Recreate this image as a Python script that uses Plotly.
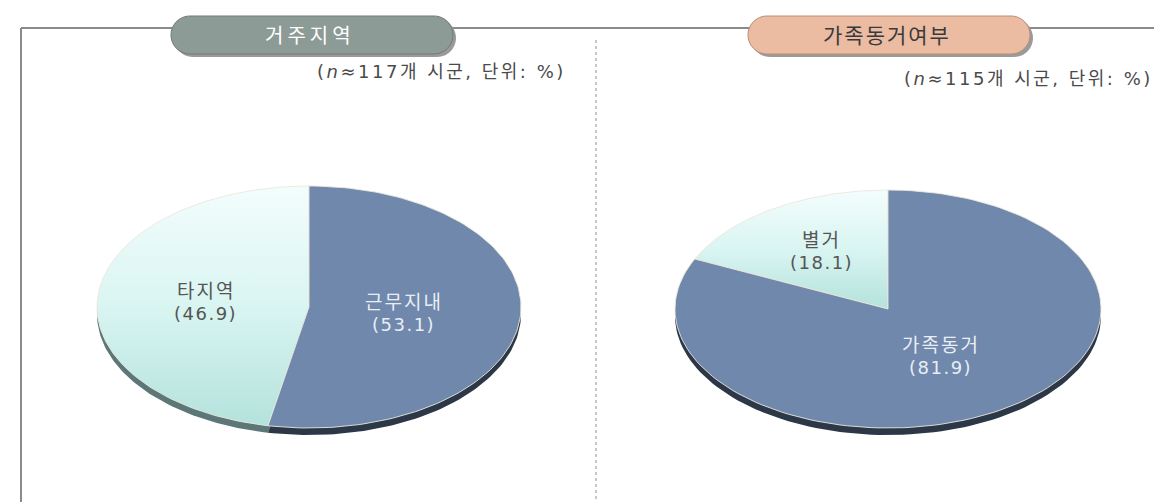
import numpy as np
import plotly.graph_objects as go

# ---- data ----
region_title = "거주지역"
region_note = "(<i>n</i>≈117개 시군, 단위: %)"
region_labels = ["타지역", "근무지내"]
region_values = [46.9, 53.1]

family_title = "가족동거여부"
family_note = "(<i>n</i>≈115개 시군, 단위: %)"
family_labels = ["별거", "가족동거"]
family_values = [18.1, 81.9]

W, H = 1162, 502
FONT = "DejaVu Sans, Noto Sans CJK KR"
KFONT = "Noto Sans CJK KR"

fig = go.Figure()


def spaced(txt, px):
    return f'<span style="letter-spacing:{px}px">{txt}</span>'


def wedge(cx, cy, a, b, t0, t1, n=140):
    t = np.linspace(t0, t1, n)
    xs = np.concatenate([[cx], cx - a * np.sin(t), [cx]])
    ys = np.concatenate([[cy], cy - b * np.cos(t), [cy]])
    return xs, ys


def add_pie(cx, cy, a, b, depth, labels, values, top_fill, rim_colors,
            text_colors, label_r):
    total = float(sum(values))
    start = 0.0
    spans = []
    for v in values:
        end = start + 2 * np.pi * v / total
        spans.append((start, end))
        start = end
    # side rim (3D thickness)
    for (t0, t1), rc in zip(spans, rim_colors):
        xs, ys = wedge(cx, cy + depth, a, b, t0, t1)
        fig.add_trace(go.Scatter(x=xs, y=ys, mode="lines", fill="toself",
                                 fillcolor=rc, line=dict(width=0),
                                 hoverinfo="skip", showlegend=False))
    # top surface
    for (t0, t1), tf in zip(spans, top_fill):
        xs, ys = wedge(cx, cy, a, b, t0, t1)
        kw = dict(x=xs, y=ys, mode="lines", fill="toself",
                  line=dict(width=1, color="rgba(235,232,220,0.9)"),
                  hoverinfo="skip", showlegend=False)
        if isinstance(tf, str):
            kw["fillcolor"] = tf
        else:
            kw["fillgradient"] = dict(type="vertical", colorscale=tf)
        fig.add_trace(go.Scatter(**kw))
    # labels (name line + value line)
    for (t0, t1), lab, v, tc, r in zip(spans, labels, values, text_colors, label_r):
        tm = (t0 + t1) / 2
        lx = cx - a * r * np.sin(tm)
        ly = cy - b * r * np.cos(tm)
        fig.add_annotation(x=lx, y=ly - 12, text=spaced(lab, 2), showarrow=False,
                           font=dict(family=KFONT, size=19, color=tc),
                           xanchor="center", yanchor="middle")
        fig.add_annotation(x=lx, y=ly + 12, text=spaced(f"({v:.1f})", 1.5),
                           showarrow=False,
                           font=dict(family=FONT, size=18, color=tc),
                           xanchor="center", yanchor="middle")


light_scale = [[0, "#b4e2dc"], [0.5, "#d9f5f2"], [1, "#f3fdfd"]]
dark_blue = "#7088ab"

add_pie(301, 299, 212, 121, 7, region_labels, region_values,
        [light_scale, dark_blue], ["#5b7777", "#2c3748"],
        ["#555555", "#e9eef6"], [0.49, 0.45])
add_pie(880, 301, 213, 119, 7, family_labels, family_values,
        [light_scale, dark_blue], ["#5b7777", "#2c3748"],
        ["#555555", "#e9eef6"], [0.58, 0.46])

# ---- frame & decorations ----
shapes = []
line_col = "#8a8a8a"
shapes.append(dict(type="line", x0=13, y0=20, x1=13, y1=502,
                   line=dict(color=line_col, width=2)))
shapes.append(dict(type="line", x0=13, y0=20, x1=1158, y1=20,
                   line=dict(color=line_col, width=2)))
shapes.append(dict(type="line", x0=588, y0=32, x1=588, y1=494,
                   line=dict(color="#b5b5b5", width=1.5, dash="dot")))
shapes.append(dict(type="rect", x0=14, y0=496, x1=1162, y1=502,
                   fillcolor="#e8f3e0", line=dict(width=0)))


def pill_path(x0, y0, x1, y1):
    r = (y1 - y0) / 2
    pts = []
    for t in np.linspace(-np.pi / 2, np.pi / 2, 24):
        pts.append((x1 - r + r * np.cos(t), (y0 + y1) / 2 + r * np.sin(t)))
    for t in np.linspace(np.pi / 2, 3 * np.pi / 2, 24):
        pts.append((x0 + r + r * np.cos(t), (y0 + y1) / 2 + r * np.sin(t)))
    return "M " + " L ".join(f"{px:.2f},{py:.2f}" for px, py in pts) + " Z"


for (x0, x1, fill, edge) in [(163, 445, "#8d9b96", "#6f7a76"),
                             (740, 1022, "#ebbba2", "#b98e78")]:
    shapes.append(dict(type="path", path=pill_path(x0 + 3, 11, x1 + 3, 49),
                       fillcolor="#9a9a9a", line=dict(width=0)))
    shapes.append(dict(type="path", path=pill_path(x0, 8, x1, 46),
                       fillcolor=fill, line=dict(color=edge, width=1)))

fig.add_annotation(x=302, y=26, text=spaced(region_title, 4), showarrow=False,
                   font=dict(family=KFONT, size=20, color="#ffffff"))
fig.add_annotation(x=879, y=26, text=spaced(family_title, 2), showarrow=False,
                   font=dict(family=KFONT, size=21, color="#3a3a3a"))
fig.add_annotation(x=560, y=63, text=spaced(region_note, 2.5), showarrow=False,
                   xanchor="right", font=dict(family=FONT, size=18, color="#4a4a4a"))
fig.add_annotation(x=1147, y=70, text=spaced(family_note, 2.5), showarrow=False,
                   xanchor="right", font=dict(family=FONT, size=18, color="#4a4a4a"))

fig.update_layout(
    width=W, height=H, margin=dict(l=0, r=0, t=0, b=0),
    paper_bgcolor="white", plot_bgcolor="white", showlegend=False,
    shapes=shapes,
    xaxis=dict(range=[0, W], visible=False, fixedrange=True),
    yaxis=dict(range=[H, 0], visible=False, fixedrange=True),
)
fig.write_html("out.html")
